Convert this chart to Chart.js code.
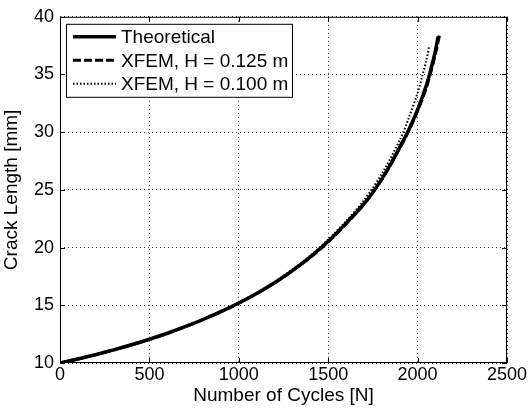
<!DOCTYPE html>
<html>
<head>
<meta charset="utf-8">
<script src="https://cdn.jsdelivr.net/npm/chart.js@4.4.1/dist/chart.umd.min.js"></script>
<style>
  html, body { margin: 0; padding: 0; background: #fff; }
  #wrap { width: 531px; height: 413px; }
</style>
</head>
<body>
<div id="wrap"><canvas id="graph" width="531" height="413"></canvas></div>
<script>
// Dados
var theoryCycles = [0, 100, 200, 300, 400, 500, 600, 700, 800, 900, 1000, 1100, 1200, 1300, 1400, 1500, 1600, 1700, 1750, 1800, 1850, 1900, 1950, 2000, 2050, 2075, 2100, 2115];
var theoryLength = [10, 10.35, 10.73, 11.14, 11.58, 12.06, 12.58, 13.15, 13.77, 14.45, 15.2, 16.03, 16.96, 18.0, 19.2, 20.55, 22.1, 23.8, 24.8, 25.95, 27.25, 28.7, 30.2, 31.95, 34.1, 35.5, 37.1, 38.3];

var h125Cycles = [0, 200, 400, 600, 800, 1000, 1200, 1400, 1500, 1600, 1700, 1800, 1900, 1950, 2000, 2050, 2100, 2125];
var h125Length = [10, 10.72, 11.57, 12.57, 13.76, 15.18, 16.93, 19.15, 20.5, 22.05, 23.75, 25.9, 28.6, 30.1, 31.85, 33.9, 36.8, 38.6];

var h100Cycles = [0, 200, 400, 600, 800, 1000, 1200, 1400, 1500, 1600, 1700, 1800, 1900, 1950, 2000, 2025, 2050, 2065];
var h100Length = [10, 10.74, 11.6, 12.6, 13.8, 15.25, 17.02, 19.3, 20.7, 22.3, 24.1, 26.4, 29.3, 31.2, 33.4, 34.8, 36.3, 37.5];

var xTicks = [0, 500, 1000, 1500, 2000, 2500];
var yTicks = [10, 15, 20, 25, 30, 35, 40];

var seriesLabels = ['Theoretical', 'XFEM, H = 0.125 m', 'XFEM, H = 0.100 m'];

function toPoints(xs, ys) {
    return xs.map(function(x, i) { return {x: x, y: ys[i]}; });
}

var fontFamily = '"Liberation Sans", Arial, sans-serif';

// Caixa do gráfico, ticks internos e legenda
var boxPlugin = {
    id: 'boxPlugin',
    afterDatasetsDraw: function(chart) {
        var ctx = chart.ctx;
        var a = chart.chartArea;
        var xs = chart.scales.x, ys = chart.scales.y;
        ctx.save();
        ctx.strokeStyle = '#000';
        ctx.lineWidth = 1;
        ctx.setLineDash([]);
        ctx.strokeRect(a.left + 0.5, a.top + 0.5, a.right - a.left - 1, a.bottom - a.top - 1);
        var t = 5;
        ctx.beginPath();
        xTicks.forEach(function(v) {
            var px = Math.round(xs.getPixelForValue(v)) + 0.5;
            ctx.moveTo(px, a.bottom); ctx.lineTo(px, a.bottom - t);
            ctx.moveTo(px, a.top); ctx.lineTo(px, a.top + t);
        });
        yTicks.forEach(function(v) {
            var py = Math.round(ys.getPixelForValue(v)) + 0.5;
            ctx.moveTo(a.left, py); ctx.lineTo(a.left + t, py);
            ctx.moveTo(a.right, py); ctx.lineTo(a.right - t, py);
        });
        ctx.stroke();

        // legenda
        var lx = a.left + 6, ly = a.top + 7, lw = 226, lh = 73;
        ctx.fillStyle = '#fff';
        ctx.fillRect(lx, ly, lw, lh);
        ctx.strokeStyle = '#000';
        ctx.strokeRect(lx + 0.5, ly + 0.5, lw, lh);
        ctx.font = '19px ' + fontFamily;
        ctx.textBaseline = 'middle';
        chart.data.datasets.forEach(function(ds, i) {
            var rowY = ly + 13 + i * 23.5;
            ctx.save();
            ctx.strokeStyle = '#000';
            ctx.lineWidth = ds.borderWidth;
            ctx.setLineDash(ds.borderDash || []);
            ctx.beginPath();
            ctx.moveTo(lx + 7, rowY);
            ctx.lineTo(lx + 50, rowY);
            ctx.stroke();
            ctx.restore();
            ctx.fillStyle = '#000';
            ctx.fillText(ds.label, lx + 55, rowY + 1);
        });
        ctx.restore();
    }
};

var ctx = document.getElementById('graph').getContext('2d');
var chart = new Chart(ctx, {
    type: 'line',
    data: {
        datasets: [{
            label: seriesLabels[0],
            data: toPoints(theoryCycles, theoryLength),
            borderColor: '#000',
            borderWidth: 3.5,
            borderDash: [],
            tension: 0.3
        }, {
            label: seriesLabels[1],
            data: toPoints(h125Cycles, h125Length),
            borderColor: '#000',
            borderWidth: 3,
            borderDash: [8, 3],
            tension: 0.3
        }, {
            label: seriesLabels[2],
            data: toPoints(h100Cycles, h100Length),
            borderColor: '#000',
            borderWidth: 2,
            borderDash: [1.5, 2],
            tension: 0.3
        }]
    },
    options: {
        responsive: false,
        animation: false,
        maintainAspectRatio: false,
        layout: { padding: { left: 0, top: 12, right: 24, bottom: 0 } },
        elements: { point: { radius: 0 } },
        plugins: {
            legend: { display: false },
            tooltip: { enabled: false }
        },
        scales: {
            x: {
                type: 'linear',
                min: 0,
                max: 2500,
                afterBuildTicks: function(scale) {
                    scale.ticks = xTicks.map(function(v) { return {value: v}; });
                },
                afterFit: function(scale) { scale.height = 50; },
                grid: { color: '#333', lineWidth: 1, drawTicks: false },
                border: { display: false, dash: [1, 3] },
                ticks: {
                    color: '#000',
                    padding: 1,
                    maxRotation: 0,
                    font: { family: fontFamily, size: 18 },
                    callback: function(v) { return String(v); }
                },
                title: {
                    display: true,
                    text: 'Number of Cycles [N]',
                    color: '#000',
                    padding: { top: 0, bottom: 6 },
                    font: { family: fontFamily, size: 19 }
                }
            },
            y: {
                min: 10,
                max: 40,
                afterBuildTicks: function(scale) {
                    scale.ticks = yTicks.map(function(v) { return {value: v}; });
                },
                afterFit: function(scale) { scale.width = 60; },
                grid: { color: '#333', lineWidth: 1, drawTicks: false },
                border: { display: false, dash: [1, 3] },
                ticks: {
                    color: '#000',
                    padding: 6,
                    font: { family: fontFamily, size: 18 },
                    callback: function(v) { return String(v); }
                },
                title: {
                    display: true,
                    text: 'Crack Length [mm]',
                    color: '#000',
                    padding: { top: 0, bottom: 0 },
                    font: { family: fontFamily, size: 19 }
                }
            }
        }
    },
    plugins: [boxPlugin]
});
</script>
</body>
</html>
